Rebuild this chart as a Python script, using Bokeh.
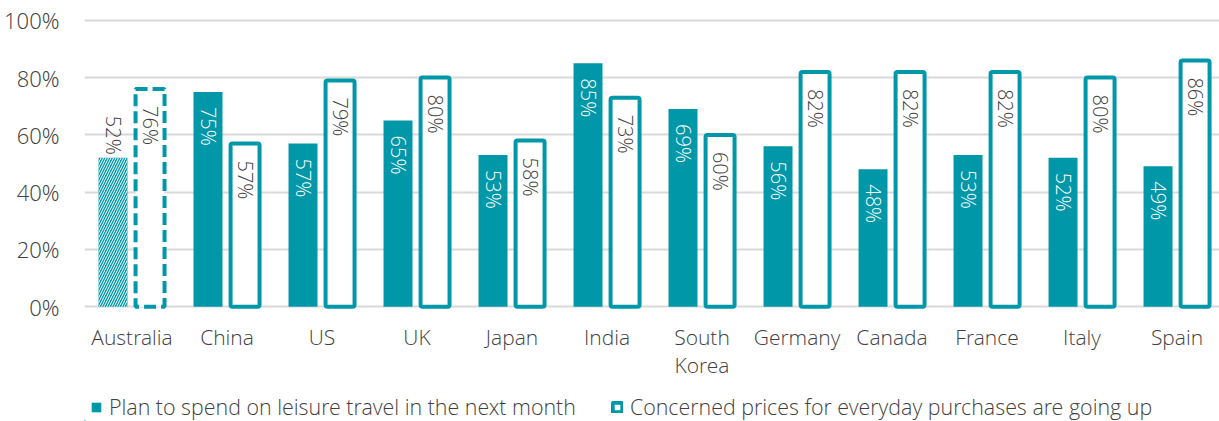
import numpy as np
from bokeh.plotting import figure
from bokeh.layouts import column
from bokeh.models import ColumnDataSource, FixedTicker, Legend, LegendItem
from bokeh.core.properties import value
from bokeh.embed import file_html
from bokeh.resources import INLINE

# ---- data ----
categories = ["Australia", "China", "US", "UK", "Japan", "India", "South\nKorea",
              "Germany", "Canada", "France", "Italy", "Spain"]
plan_travel = [52, 75, 57, 65, 53, 85, 69, 56, 48, 53, 52, 49]
concerned_prices = [76, 57, 79, 80, 58, 73, 60, 82, 82, 82, 80, 86]
series_names = ["Plan to spend on leisure travel in the next month",
                "Concerned prices for everyday purchases are going up"]
y_ticks = [0, 20, 40, 60, 80, 100]
y_tick_labels = ["0%", "20%", "40%", "60%", "80%", "100%"]

TEAL = "#0097A9"
FONT = "'Open Sans Light', 'Open Sans'"
TEXT = "#404040"
GRID = "#D9D9D9"

idx = np.arange(len(categories))
data = dict(
    xf=idx - 0.2,
    xo=idx + 0.19,
    plan=plan_travel,
    conc=concerned_prices,
    plan_lbl=[f"{v}%" for v in plan_travel],
    conc_lbl=[f"{v}%" for v in concerned_prices],
)
aus = ColumnDataSource({k: list(v[:1]) for k, v in data.items()})
rest = ColumnDataSource({k: list(v[1:]) for k, v in data.items()})

p = figure(width=1219, height=384, x_range=(-0.5, 11.447), y_range=(-1, 102.4),
           output_backend="svg", toolbar_location=None,
           min_border_left=84, min_border_right=0, min_border_top=13, min_border_bottom=75)
p.outline_line_color = None
p.background_fill_color = "white"

p.xgrid.grid_line_color = None
p.ygrid.ticker = FixedTicker(ticks=y_ticks)
p.ygrid.grid_line_color = GRID
p.ygrid.grid_line_width = 2

p.yaxis.ticker = FixedTicker(ticks=y_ticks)
p.yaxis.major_label_overrides = {t: l for t, l in zip(y_ticks, y_tick_labels)}
p.xaxis.ticker = FixedTicker(ticks=[int(i) for i in idx])
p.xaxis.major_label_overrides = {int(i): c for i, c in zip(idx, categories)}
for ax in (p.xaxis, p.yaxis):
    ax.axis_line_color = None
    ax.major_tick_line_color = None
    ax.minor_tick_line_color = None
    ax.major_label_text_font = FONT
    ax.major_label_text_font_size = "21px"
    ax.major_label_text_color = TEXT
p.yaxis.major_label_text_font_size = "22px"
p.yaxis.major_label_standoff = 19
p.xaxis.major_label_standoff = 7
p.xaxis.major_label_text_line_height = 1.0

W = 0.305
# Australia (hatched / dashed)
p.vbar(x="xf", top="plan", bottom=0, width=W, source=aus, fill_color=TEAL, line_color=None,
       hatch_pattern="right_diagonal_line", hatch_color="white", hatch_scale=5, hatch_weight=1.0)
p.vbar(x="xo", top="conc", bottom=0, width=W, source=aus, fill_color="white",
       line_color=TEAL, line_width=4, line_dash="12 5")
# Others
p.vbar(x="xf", top="plan", bottom=0, width=W, source=rest, fill_color=TEAL, line_color=None)
p.vbar(x="xo", top="conc", bottom=0, width=W, source=rest, fill_color="white",
       line_color=TEAL, line_width=4, border_radius=2)

ang = -np.pi / 2
common = dict(angle=ang, text_baseline="middle", text_font=value(FONT), text_font_size="20px")
p.text(x="xf", y="plan", text="plan_lbl", source=aus, text_align="right", text_color=TEXT,
       y_offset=-3, **common)
p.text(x="xo", y="conc", text="conc_lbl", source=aus, text_align="left", text_color=TEXT,
       y_offset=17, **common)
p.text(x="xf", y="plan", text="plan_lbl", source=rest, text_align="left", text_color="white",
       y_offset=15, **common)
p.text(x="xo", y="conc", text="conc_lbl", source=rest, text_align="left", text_color=TEXT,
       y_offset=17, **common)

# ---- legend strip (own figure so the legend is not clipped) ----
lg = figure(width=1219, height=37, x_range=(0, 1), y_range=(0, 1),
            output_backend="svg", toolbar_location=None,
            x_axis_location=None, y_axis_location=None,
            min_border_left=84, min_border_right=0, min_border_top=0, min_border_bottom=0)
lg.outline_line_color = None
lg.grid.visible = False
# legend-only swatch renderers, kept entirely outside the strip's ranges
swatch = ColumnDataSource(dict(x=[-50], top=[-50], bottom=[-60]))
g_f = lg.vbar(x="x", top="top", bottom="bottom", width=0.1, source=swatch,
              fill_color=TEAL, line_color=None)
g_o = lg.vbar(x="x", top="top", bottom="bottom", width=0.1, source=swatch,
              fill_color="white", line_color=TEAL, line_width=4)
legend = Legend(items=[LegendItem(label=series_names[0], renderers=[g_f]),
                       LegendItem(label=series_names[1], renderers=[g_o])],
                orientation="horizontal", location=(6, 0),
                label_text_font=FONT, label_text_font_size="21.4px", label_text_color=TEXT,
                glyph_width=12, glyph_height=12, label_standoff=7, spacing=35,
                border_line_color=None, background_fill_alpha=0, padding=2, margin=0)
lg.add_layout(legend, "center")

open("out.html", "w").write(file_html(column(p, lg, spacing=0), INLINE))
